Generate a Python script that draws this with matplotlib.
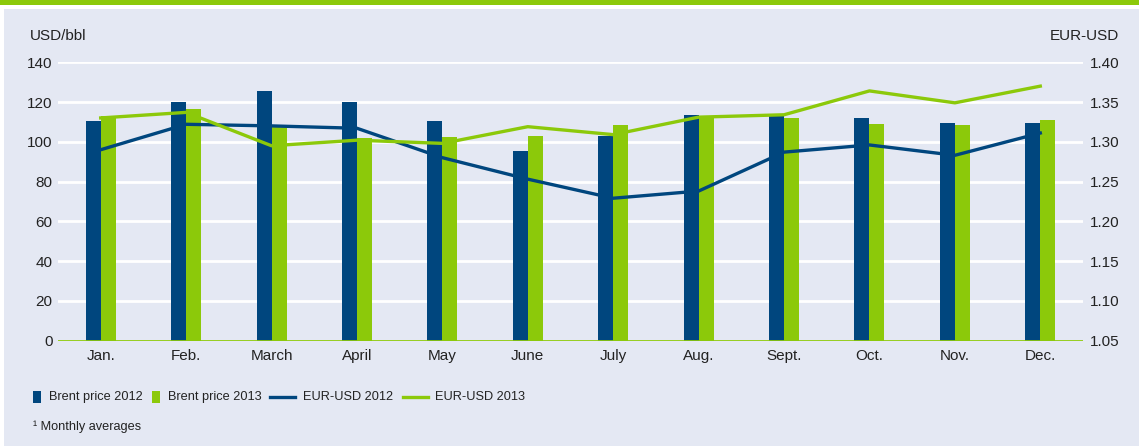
import matplotlib
matplotlib.use("Agg")
import matplotlib.pyplot as plt
from matplotlib.patches import Rectangle
from matplotlib.lines import Line2D
import numpy as np

months = ["Jan.", "Feb.", "March", "April", "May", "June", "July", "Aug.", "Sept.", "Oct.", "Nov.", "Dec."]
brent_2012 = [110.7, 119.8, 125.8, 119.9, 110.7, 95.2, 103.0, 113.7, 113.4, 112.2, 109.7, 109.7]
brent_2013 = [113.2, 116.7, 107.5, 102.0, 102.6, 103.1, 108.2, 111.9, 112.2, 109.2, 108.2, 111.2]
eurusd_2012 = [1.290, 1.322, 1.320, 1.317, 1.280, 1.253, 1.229, 1.238, 1.287, 1.296, 1.283, 1.311]
eurusd_2013 = [1.330, 1.337, 1.295, 1.302, 1.298, 1.319, 1.309, 1.331, 1.334, 1.364, 1.349, 1.370]
left_ticks = [0, 20, 40, 60, 80, 100, 120, 140]
right_ticks = [1.05, 1.10, 1.15, 1.20, 1.25, 1.30, 1.35, 1.40]
legend_labels = ["Brent price 2012", "Brent price 2013", "EUR-USD 2012", "EUR-USD 2013"]

BLUE = "#00467e"
GREEN = "#8cc90a"
BG = "#e4e8f3"
TXT = "#222222"

W, H = 1139, 446
fig = plt.figure(figsize=(W / 100, H / 100), dpi=100)
fig.patch.set_facecolor("white")

# background panels
fig.add_artist(Rectangle((3.5 / W, 0), 1 - 3.5 / W, 1 - 8.5 / H, transform=fig.transFigure,
                         facecolor=BG, edgecolor="none", zorder=-10))
fig.add_artist(Rectangle((0, 1 - 4.7 / H), 1, 4.7 / H, transform=fig.transFigure,
                         facecolor=GREEN, edgecolor="none", zorder=-10))

x0, x1 = 58, 1083
y_top, y_bot = 62.3, 340.5
ax = fig.add_axes([x0 / W, 1 - y_bot / H, (x1 - x0) / W, (y_bot - y_top) / H])
ax.set_facecolor("none")
ax2 = ax.twinx()
ax2.set_facecolor("none")

x = np.arange(len(months))
bw = 0.176
ax.bar(x - bw / 2, brent_2012, width=bw, color=BLUE, zorder=3)
ax.bar(x + bw / 2, brent_2013, width=bw, color=GREEN, zorder=3)

ax.set_xlim(-0.5, len(months) - 0.5)
ax.set_ylim(0, 140)
ax.set_yticks(left_ticks)
ax.set_yticklabels([str(v) for v in left_ticks])
ax.grid(axis="y", color="white", linewidth=2.0, zorder=0)
ax.axhline(0, color=GREEN, linewidth=2.0, zorder=4)
ax.set_xticks(x)
ax.set_xticklabels(months)

ax2.plot(x, eurusd_2012, color=BLUE, linewidth=2.4, zorder=5)
ax2.plot(x, eurusd_2013, color=GREEN, linewidth=2.4, zorder=5)
ax2.set_ylim(1.05, 1.40)
ax2.set_yticks(right_ticks)
ax2.set_yticklabels([f"{v:.2f}" for v in right_ticks])

font = "Liberation Sans"
for a in (ax, ax2):
    for s in a.spines.values():
        s.set_visible(False)
    a.tick_params(length=0, labelsize=11, labelcolor=TXT)
    for lab in a.get_xticklabels() + a.get_yticklabels():
        lab.set_fontfamily(font)
ax.tick_params(axis="y", pad=4)
ax.tick_params(axis="x", pad=6)
ax2.tick_params(axis="y", pad=5)
ax.set_zorder(1)
ax2.set_zorder(2)

fig.text(30 / W, 1 - 36 / H, "USD/bbl", fontsize=11, color=TXT, family=font, va="center", ha="left")
fig.text(1119 / W, 1 - 36 / H, "EUR-USD", fontsize=11, color=TXT, family=font, va="center", ha="right")

# legend
ly = 1 - 397 / H
sq_w, sq_h = 7.5 / W, 12 / H
fig.add_artist(Rectangle((33 / W, ly - sq_h / 2), sq_w, sq_h, transform=fig.transFigure,
                         facecolor=BLUE, edgecolor="none"))
fig.add_artist(Rectangle((152 / W, ly - sq_h / 2), sq_w, sq_h, transform=fig.transFigure,
                         facecolor=GREEN, edgecolor="none"))
fig.add_artist(Line2D([270 / W, 295 / W], [ly, ly], transform=fig.transFigure, color=BLUE, linewidth=2.4))
fig.add_artist(Line2D([403 / W, 428 / W], [ly, ly], transform=fig.transFigure, color=GREEN, linewidth=2.4))
for xp, lab in zip([49, 168, 303, 435], legend_labels):
    fig.text(xp / W, ly, lab, fontsize=9.2, color=TXT, family=font, va="center", ha="left")

fig.text(33 / W, 1 - 427 / H, "\u00b9 Monthly averages", fontsize=9.2, color=TXT, family=font,
         va="center", ha="left")

fig.savefig("out.png", dpi=100, facecolor=fig.get_facecolor())
